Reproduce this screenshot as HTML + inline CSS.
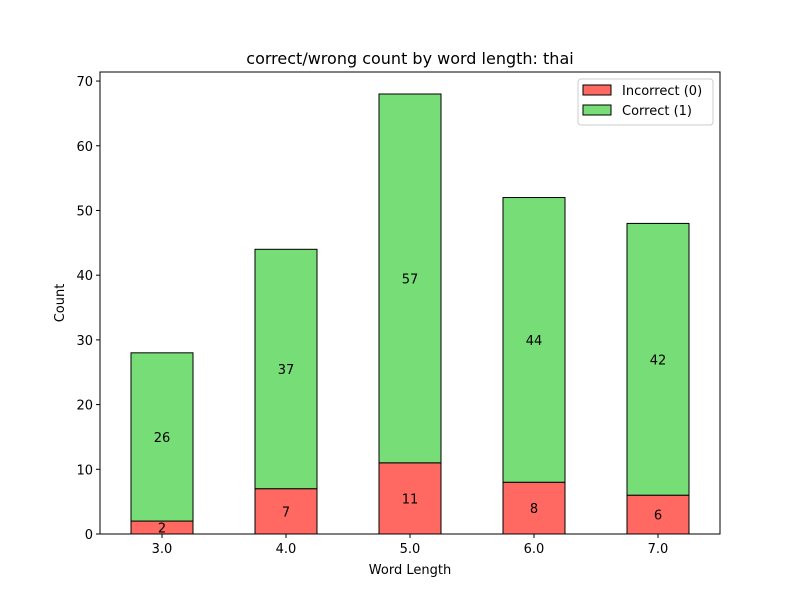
<!DOCTYPE html>
<html><head><meta charset="utf-8"><style>
body{margin:0;background:#fff;}
svg text{font-family:"DejaVu Sans","Liberation Sans",sans-serif;}
</style></head><body>
<svg id="chart" width="800" height="600" xmlns="http://www.w3.org/2000/svg">
<rect width="800" height="600" fill="#fff"/>
<text x="410" y="64" text-anchor="middle" font-size="16">correct/wrong count by word length: thai</text>
<g id="bars"></g>
<g id="axes"></g>
<text x="410" y="574" text-anchor="middle" font-size="13">Word Length</text>
<text transform="translate(64,303) rotate(-90)" text-anchor="middle" font-size="13">Count</text>
<g>
<rect x="578" y="79" width="135" height="46" rx="3" fill="#fff" fill-opacity="0.8" stroke="#ccc"/>
<rect x="583" y="85" width="28" height="10" fill="#ff6961" stroke="#000"/>
<text x="622" y="95" font-size="13">Incorrect (0)</text>
<rect x="583" y="105" width="28" height="10" fill="#77dd77" stroke="#000"/>
<text x="622" y="115" font-size="13">Correct (1)</text>
</g>
</svg>
<script>
const categories=["3.0","4.0","5.0","6.0","7.0"];
const incorrect=[2,7,11,8,6];
const correct=[26,37,57,44,42];
const yTicks=[0,10,20,30,40,50,60,70];
const L=100,R=720,T=72,B=534;
const totals=incorrect.map((v,i)=>v+correct[i]);
const yMax=Math.max(...totals)*1.05;
const y=v=>B-(v/yMax)*(B-T);
const step=(R-L)/categories.length;
const x=i=>L+step*(i+0.5);
const bw=step*0.5;
const NS="http://www.w3.org/2000/svg";
function mk(tag,attrs,parent){const e=document.createElementNS(NS,tag);for(const k in attrs)e.setAttribute(k,attrs[k]);parent.appendChild(e);return e;}
const bars=document.getElementById('bars'),axes=document.getElementById('axes');
categories.forEach((c,i)=>{
  const a=mk('rect',{x:x(i)-bw/2,y:y(incorrect[i]),width:bw,height:y(0)-y(incorrect[i]),fill:'#ff6961',stroke:'#000'},bars);
  
  
  const b=mk('rect',{x:x(i)-bw/2,y:y(totals[i]),width:bw,height:y(incorrect[i])-y(totals[i]),fill:'#77dd77',stroke:'#000'},bars);
  
  
  const t1=mk('text',{x:x(i),y:(y(0)+y(incorrect[i]))/2+5,'text-anchor':'middle','font-size':13},bars);
  t1.textContent=incorrect[i];
  
  
  const t2=mk('text',{x:x(i),y:(y(incorrect[i])+y(totals[i]))/2+5,'text-anchor':'middle','font-size':13},bars);
  t2.textContent=correct[i];
  
  
  mk('line',{x1:x(i),x2:x(i),y1:B,y2:B+4,stroke:'#000'},axes);
  const xt=mk('text',{x:x(i),y:B+19,'text-anchor':'middle','font-size':13},axes);
  xt.textContent=c;
  
  
});
yTicks.forEach(v=>{
  mk('line',{x1:L-4,x2:L,y1:y(v),y2:y(v),stroke:'#000'},axes);
  const t=mk('text',{x:L-7,y:y(v)+5,'text-anchor':'end','font-size':13},axes);
  t.textContent=v;
  
  
});
const fr=mk('rect',{x:L,y:T,width:R-L,height:B-T,fill:'none',stroke:'#000'},axes);


</script>
</body></html>
